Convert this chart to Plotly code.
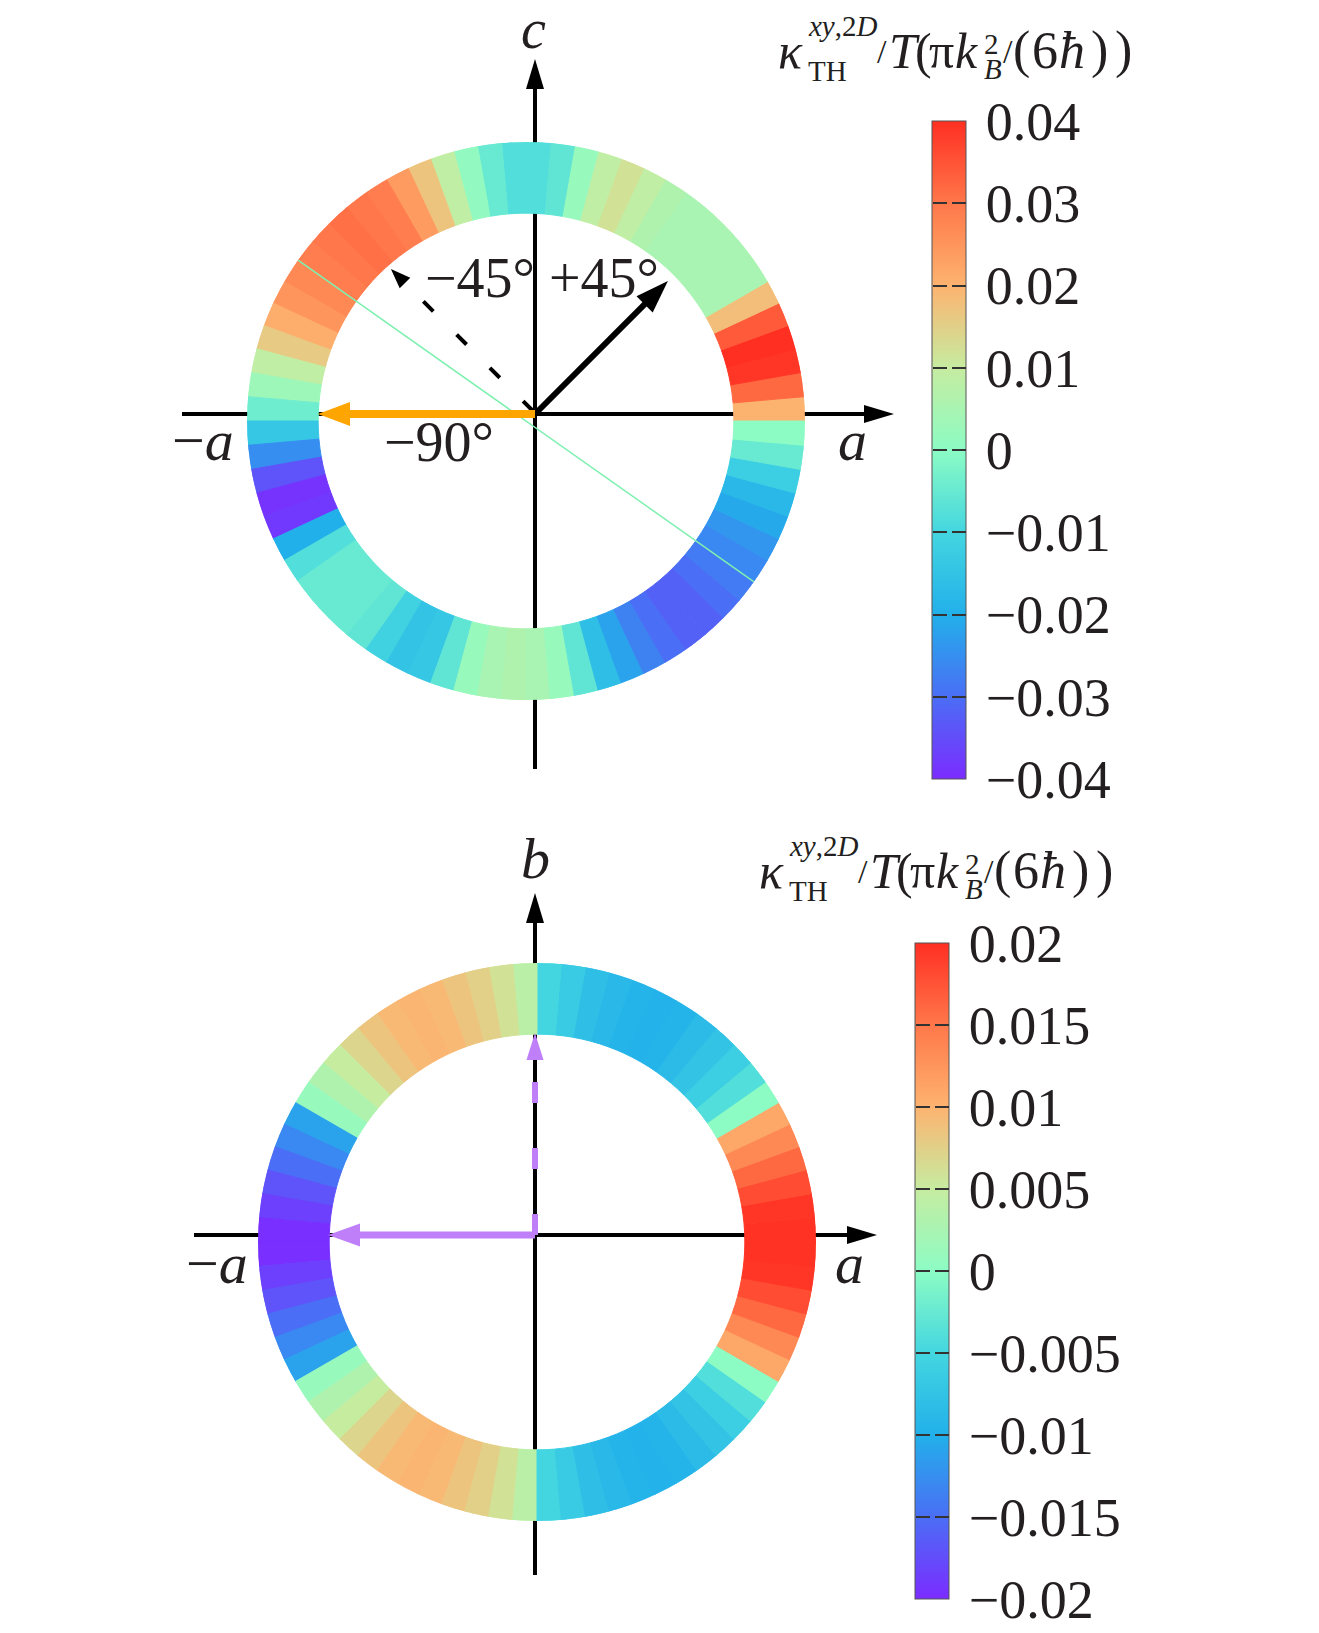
import numpy as np
import plotly.graph_objects as go

W, H = 1319, 1633
OFF = 8  # the page body margin: the figure starts 8 px in from the window corner

# sector centres of the rings (degrees, counter-clockwise from +a), 5 degree wide
ring_theta = [2.5, 7.5, 12.5, 17.5, 22.5, 27.5, 32.5, 37.5, 42.5, 47.5, 52.5, 57.5,
              62.5, 67.5, 72.5, 77.5, 82.5, 87.5, 92.5, 97.5, 102.5, 107.5, 112.5, 117.5,
              122.5, 127.5, 132.5, 137.5, 142.5, 147.5, 152.5, 157.5, 162.5, 167.5, 172.5, 177.5,
              182.5, 187.5, 192.5, 197.5, 202.5, 207.5, 212.5, 217.5, 222.5, 227.5, 232.5, 237.5,
              242.5, 247.5, 252.5, 257.5, 262.5, 267.5, 272.5, 277.5, 282.5, 287.5, 292.5, 297.5,
              302.5, 307.5, 312.5, 317.5, 322.5, 327.5, 332.5, 337.5, 342.5, 347.5, 352.5, 357.5]

# kappa_TH^{xy,2D}/T in units of pi k_B^2/(6 hbar), a-c plane (top)
kappa_ac = [0.020, 0.032, 0.039, 0.040, 0.034, 0.018, 0.005, 0.005, 0.005, 0.005, 0.005, 0.006,
            0.009, 0.012, 0.009, 0.002, -0.006, -0.008, -0.008, -0.005, 0.001, 0.009, 0.017, 0.024,
            0.029, 0.030, 0.031, 0.030, 0.029, 0.027, 0.025, 0.021, 0.016, 0.009, 0.003, -0.004,
            -0.014, -0.025, -0.034, -0.039, -0.038, -0.020, -0.008, -0.005, -0.005, -0.005, -0.006, -0.011,
            -0.015, -0.014, -0.006, 0.002, 0.005, 0.006, 0.005, 0.002, -0.006, -0.016, -0.022, -0.027,
            -0.030, -0.032, -0.032, -0.030, -0.028, -0.026, -0.024, -0.021, -0.018, -0.012, -0.005, 0.000]

# a-b plane (bottom)
kappa_ab = [0.0198, 0.0195, 0.018, 0.016, 0.0135, 0.011, 0.0, -0.004, -0.006, -0.0075, -0.0085, -0.0095,
            -0.0098, -0.0095, -0.009, -0.008, -0.0065, -0.005, 0.004, 0.006, 0.0075, 0.0085, 0.0095, 0.0098,
            0.0095, 0.0085, 0.007, 0.005, 0.003, 0.001, -0.011, -0.013, -0.015, -0.017, -0.0185, -0.0198,
            -0.0198, -0.0185, -0.017, -0.015, -0.013, -0.011, 0.001, 0.003, 0.005, 0.007, 0.0085, 0.0095,
            0.0098, 0.0095, 0.0085, 0.0075, 0.006, 0.004, -0.005, -0.0065, -0.008, -0.009, -0.0095, -0.0098,
            -0.0095, -0.0085, -0.0075, -0.006, -0.004, 0.0, 0.011, 0.0135, 0.016, 0.018, 0.0195, 0.0198]

ticks_ac = [-0.04, -0.03, -0.02, -0.01, 0, 0.01, 0.02, 0.03, 0.04]
ticktext_ac = ["\u22120.04", "\u22120.03", "\u22120.02", "\u22120.01", "0", "0.01", "0.02", "0.03", "0.04"]
ticks_ab = [-0.02, -0.015, -0.01, -0.005, 0, 0.005, 0.01, 0.015, 0.02]
ticktext_ab = ["\u22120.02", "\u22120.015", "\u22120.01", "\u22120.005", "0", "0.005", "0.01", "0.015", "0.02"]

# direction of the thin green line through the a-c ring
green_theta = [144.8, 324.8]

SERIF = "Liberation Serif"
INK = "#231f20"
SCALE = [[0.0, "#7b2cff"], [0.125, "#4a6ef5"], [0.25, "#22b0ea"], [0.375, "#43d6e0"],
         [0.5, "#8cfcc4"], [0.625, "#c6eca0"], [0.75, "#fdb370"], [0.875, "#ff774a"],
         [1.0, "#ff2f22"]]
R_IN = 0.745
FW, FH = W - OFF, H - OFF


def pxx(x):
    return (x - OFF) / FW


def pxy(y):
    return 1 - (y - OFF) / FH


def cbar(x0, top, length, ticks, text):
    return dict(x=pxx(x0), xanchor="left", xpad=0, y=pxy(top + length / 2), yanchor="middle",
                ypad=0, len=length / FH, lenmode="fraction", thickness=34, thicknessmode="pixels",
                outlinewidth=1, outlinecolor="#555", tickvals=ticks, ticktext=text,
                ticks="outside", ticklen=9, tickcolor="rgba(0,0,0,0)",
                tickfont=dict(family=SERIF, size=54, color=INK))


def ring(values, vmax, polar, colorbar):
    return go.Barpolar(
        r=[1 - R_IN] * len(values), base=R_IN, theta=ring_theta, width=5,
        marker=dict(color=values, colorscale=SCALE, cmin=-vmax, cmax=vmax,
                    line=dict(color=values, colorscale=SCALE, cmin=-vmax, cmax=vmax, width=1),
                    showscale=True, colorbar=colorbar),
        subplot=polar, hoverinfo="skip", showlegend=False)


fig = go.Figure()
# invisible trace so the pixel-space frame axes exist
fig.add_trace(go.Scatter(x=[OFF], y=[OFF], mode="markers", marker=dict(opacity=0),
                         showlegend=False, hoverinfo="skip"))
fig.add_trace(ring(kappa_ac, 0.04, "polar", cbar(932, 121, 658, ticks_ac, ticktext_ac)))
fig.add_trace(go.Scatterpolar(r=[1, 1], theta=green_theta, mode="lines",
                              line=dict(color="#7ef0b0", width=1.5), subplot="polar",
                              hoverinfo="skip", showlegend=False))
fig.add_trace(ring(kappa_ab, 0.02, "polar2", cbar(915, 943, 656, ticks_ab, ticktext_ab)))

shapes = []
annotations = []


def head(tip_x, tip_y, ang, hl, hw, color):
    ux, uy = np.cos(np.radians(ang)), -np.sin(np.radians(ang))
    bx, by = tip_x - hl * ux, tip_y - hl * uy
    px, py = -uy * hw / 2, ux * hw / 2
    shapes.append(dict(type="path", xref="x", yref="y", layer="above", line=dict(width=0),
                       fillcolor=color,
                       path=f"M {tip_x:.1f} {tip_y:.1f} L {bx + px:.1f} {by + py:.1f} "
                            f"L {bx - px:.1f} {by - py:.1f} Z"))
    return bx, by


def arrow(x0, y0, ang, length, lw, hl, hw, color, dash="solid", layer="above"):
    ux, uy = np.cos(np.radians(ang)), -np.sin(np.radians(ang))
    tx, ty = x0 + length * ux, y0 + length * uy
    bx, by = head(tx, ty, ang, hl, hw, color)
    shapes.append(dict(type="line", xref="x", yref="y", layer=layer, x0=x0, y0=y0,
                       x1=bx + 2 * ux, y1=by + 2 * uy, line=dict(color=color, width=lw, dash=dash)))


def frame_axes(cx, cy, left, right, bottom, top):
    # axis lines sit under the ring, arrow heads outside of it
    shapes.append(dict(type="line", xref="x", yref="y", layer="below", x0=left, y0=cy,
                       x1=right - 28, y1=cy, line=dict(color="black", width=4)))
    shapes.append(dict(type="line", xref="x", yref="y", layer="below", x0=cx, y0=bottom,
                       x1=cx, y1=top + 28, line=dict(color="black", width=4)))
    head(right, cy, 0, 30, 18, "black")
    head(cx, top, 90, 30, 18, "black")


def label(s, x, baseline, size, anchor="center"):
    # annotation boxes are centred on the font box: middle sits 0.34 em above the baseline
    annotations.append(dict(text=s, x=x, y=baseline - 0.3375 * size, xref="x", yref="y",
                            showarrow=False, xanchor=anchor, yanchor="middle", borderpad=0,
                            font=dict(family=SERIF, size=size, color=INK)))


def cbar_title(dx, dy):
    parts = [("<i>\u03ba</i>", 777, 68, 50), ("<i>xy</i>,2<i>D</i>", 807, 36, 29),
             ("TH", 807, 81, 29), ("/", 876, 63, 34), ("<i>T</i>", 888, 68, 50),
             ("(", 914, 68, 50), ("\u03c0", 928, 68, 50), ("<i>k</i>", 954, 68, 50),
             ("2", 983, 54, 29), ("<i>B</i>", 983, 79, 29), ("/", 1002, 63, 34),
             ("(", 1012, 68, 52), ("6", 1031, 68, 52), ("<i>\u0127</i>", 1058, 68, 52),
             (")", 1090, 68, 52), (")", 1114, 68, 52)]
    for s, x, b, size in parts:
        label(s, x + dx, b + dy, size, "left")


def cbar_dashes(x0, top, length, ticks):
    lo, hi = ticks[0], ticks[-1]
    for v in ticks[1:-1]:
        y = top + (hi - v) / (hi - lo) * length
        for xc, w in [(x0 + 8, 14), (x0 + 27, 14)]:
            annotations.append(dict(text=" ", x=xc, y=y, xref="x", yref="y", showarrow=False,
                                    width=w, height=2, bgcolor="#333", borderpad=0, borderwidth=0,
                                    font=dict(size=1)))


# ---- top: a-c plane ----
frame_axes(535, 414, 182, 894, 769, 59)
arrow(535, 414, 45, 188, 6, 33, 23, "black")
arrow(533, 411, 135, 201, 4, 20, 15, "black", dash="14px,33px")
arrow(535, 414, 180, 217, 8, 32, 24, "#ffa500")
label("<i>c</i>", 533, 48, 56)
label("\u2212<i>a</i>", 203, 460, 58)
label("<i>a</i>", 852, 460, 58)
label("\u221245\u00b0", 480, 297, 56)
label("+45\u00b0", 604, 297, 56)
label("\u221290\u00b0", 439, 461, 56)
cbar_title(0, 0)
cbar_dashes(932, 121, 658, ticks_ac)

# ---- bottom: a-b plane ----
frame_axes(535, 1235, 194, 877, 1575, 893)
arrow(535, 1235, 180, 207, 7, 32, 23, "#bf7ff8")
arrow(535, 1235, 90, 202, 6, 27, 17, "#bf7ff8", dash="21px,45px")
label("<i>b</i>", 535, 878, 58)
label("\u2212<i>a</i>", 217, 1283, 58)
label("<i>a</i>", 849, 1283, 58)
cbar_title(-19, 820)
cbar_dashes(915, 943, 656, ticks_ab)

hidden_polar = dict(bgcolor="rgba(0,0,0,0)", bargap=0,
                    radialaxis=dict(visible=False, range=[0, 1]),
                    angularaxis=dict(visible=False, direction="counterclockwise", rotation=0))

fig.update_layout(
    width=FW, height=FH, margin=dict(l=0, r=0, t=0, b=0),
    paper_bgcolor="white", plot_bgcolor="white",
    xaxis=dict(range=[OFF, W], domain=[0, 1], visible=False),
    yaxis=dict(range=[H, OFF], domain=[0, 1], visible=False),
    polar=dict(domain=dict(x=[pxx(247), pxx(805)], y=[pxy(700), pxy(142)]), **hidden_polar),
    polar2=dict(domain=dict(x=[pxx(258), pxx(816)], y=[pxy(1521), pxy(963)]), **hidden_polar),
    shapes=shapes, annotations=annotations,
)

fig.write_html("out.html")
